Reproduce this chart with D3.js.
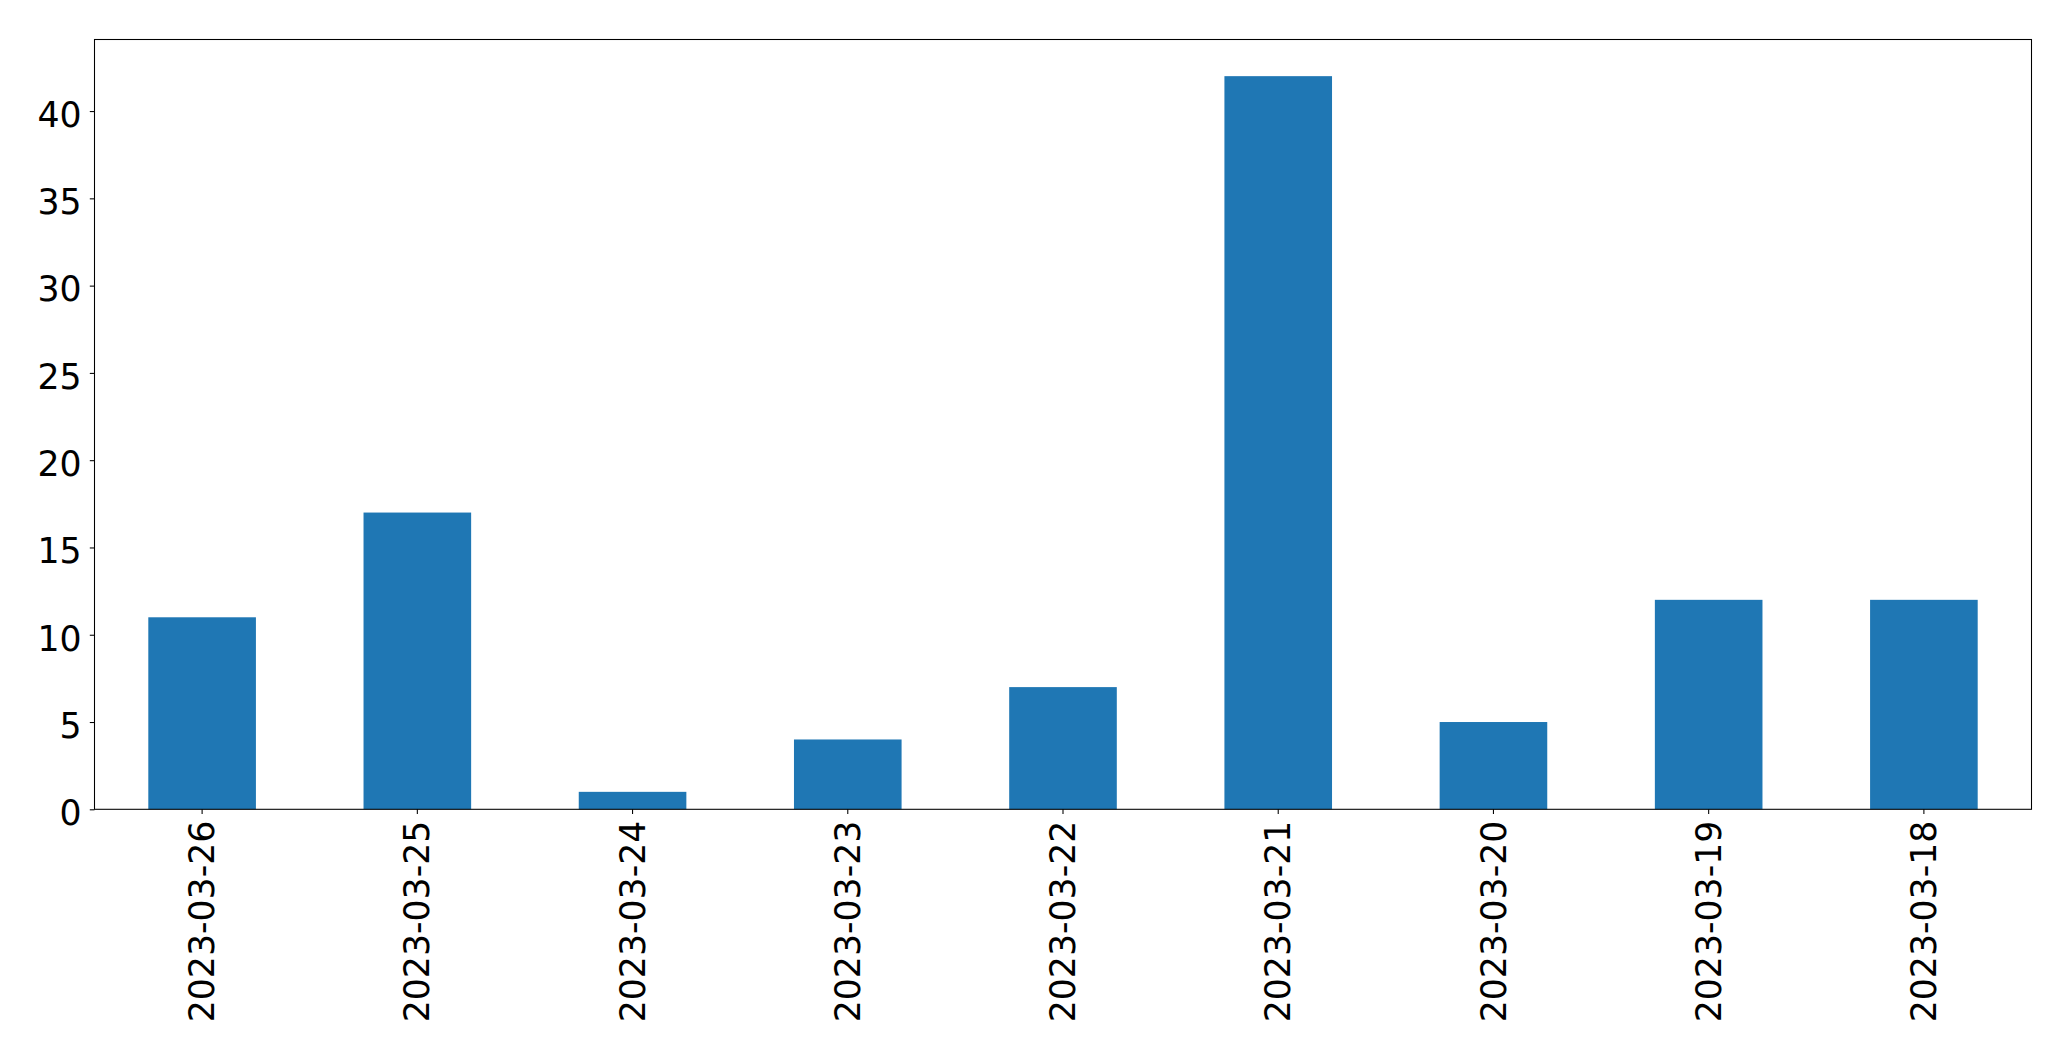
<!DOCTYPE html>
<html>
<head>
<meta charset="utf-8">
<script src="https://cdn.jsdelivr.net/npm/d3@7"></script>
<style>
  html, body { margin: 0; padding: 0; background: #ffffff; }
  svg { display: block; }
</style>
</head>
<body>
<svg id="chart" width="2071" height="1061"></svg>
<script>
const categories = ["2023-03-26","2023-03-25","2023-03-24","2023-03-23","2023-03-22","2023-03-21","2023-03-20","2023-03-19","2023-03-18"];
const values = [11, 17, 1, 4, 7, 42, 5, 12, 12];
const yTicks = [0, 5, 10, 15, 20, 25, 30, 35, 40];

(function () {
const W = 2071, H = 1061;
const pLeft = 94.5, pRight = 2031.5, pTop = 39.5, pBottom = 809.3;
const fontSize = 34.7;
const tickLen = 4.7, tickPad = 4.7;

const svg = d3.select("#chart");
svg.append("rect").attr("width", W).attr("height", H).attr("fill", "#ffffff");

const x = d3.scaleBand().domain(categories).range([pLeft, pRight]).paddingInner(0.5).paddingOuter(0.25);
const yMax = d3.max(values) * 1.05;
const y = d3.scaleLinear().domain([0, yMax]).range([pBottom, pTop]);

// bars
svg.append("g").selectAll("rect").data(values).join("rect")
  .attr("x", (d, i) => x(categories[i]))
  .attr("width", x.bandwidth())
  .attr("y", d => y(d))
  .attr("height", d => y(0) - y(d))
  .attr("fill", "#1f77b4");

// y axis
const yAxis = d3.axisLeft(y).tickValues(yTicks).tickSize(tickLen).tickPadding(tickPad + 3.5).tickFormat(d3.format("d"));
const gy = svg.append("g").attr("transform", `translate(${pLeft},0)`).call(yAxis);
gy.select(".domain").remove();
gy.selectAll(".tick line").attr("stroke", "#000").attr("stroke-width", 1.07);
gy.selectAll(".tick text")
  .attr("font-family", "DejaVu Sans")
  .attr("font-size", fontSize)
  .attr("fill", "#000")
  .attr("dy", "0.44em");

// x axis
const xAxis = d3.axisBottom(x).tickSize(tickLen).tickPadding(0);
const gx = svg.append("g").attr("transform", `translate(0,${pBottom})`).call(xAxis);
gx.select(".domain").remove();
gx.selectAll(".tick line").attr("stroke", "#000").attr("stroke-width", 1.07);
gx.selectAll(".tick text")
  .attr("font-family", "DejaVu Sans")
  .attr("font-size", fontSize)
  .attr("fill", "#000")
  .attr("text-anchor", "end")
  .attr("transform", `translate(0,${tickLen + tickPad + 2}) rotate(-90)`)
  .attr("x", 0)
  .attr("y", 0)
  .attr("dy", "0.35em");

// frame
svg.append("rect")
  .attr("x", pLeft).attr("y", pTop)
  .attr("width", pRight - pLeft).attr("height", pBottom - pTop)
  .attr("fill", "none").attr("stroke", "#000").attr("stroke-width", 1.07);
})();
</script>
</body>
</html>
